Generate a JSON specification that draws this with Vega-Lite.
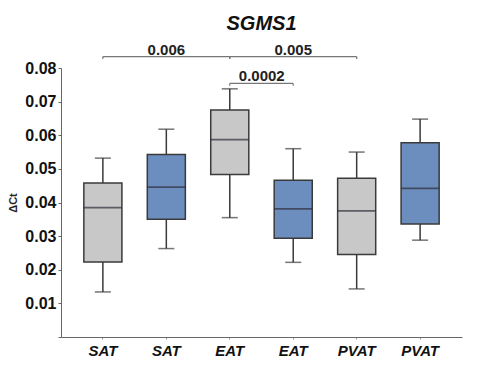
{
  "$schema": "https://vega.github.io/schema/vega-lite/v6.json",
  "width": 401,
  "height": 269,
  "autosize": {"type": "none"},
  "padding": {"left": 61, "top": 68, "right": 34, "bottom": 40},
  "background": "white",
  "title": {"text": "SGMS1", "font": "Liberation Sans", "fontSize": 20, "fontWeight": "bold", "fontStyle": "italic", "color": "#111", "anchor": "middle", "offset": 9},
  "config": {"view": {"stroke": null}, "font": "Liberation Sans"},
  "datasets": {
    "boxes": [
      {"group": "SAT_1", "tissue": "grey", "min": 0.0134, "q1": 0.0223, "median": 0.0385, "q3": 0.0458, "max": 0.0532},
      {"group": "SAT_2", "tissue": "blue", "min": 0.0263, "q1": 0.0350, "median": 0.0446, "q3": 0.0543, "max": 0.0618},
      {"group": "EAT_1", "tissue": "grey", "min": 0.0355, "q1": 0.0483, "median": 0.0587, "q3": 0.0675, "max": 0.0738},
      {"group": "EAT_2", "tissue": "blue", "min": 0.0222, "q1": 0.0294, "median": 0.0381, "q3": 0.0466, "max": 0.0560},
      {"group": "PVAT_1", "tissue": "grey", "min": 0.0143, "q1": 0.0245, "median": 0.0375, "q3": 0.0472, "max": 0.0550},
      {"group": "PVAT_2", "tissue": "blue", "min": 0.0288, "q1": 0.0336, "median": 0.0442, "q3": 0.0578, "max": 0.0648}
    ],
    "brackets": [
      {"from": "SAT_1", "to": "EAT_1", "y": 0.0834, "yEnd": 0.0827},
      {"from": "EAT_1", "to": "PVAT_1", "y": 0.0834, "yEnd": 0.0827},
      {"from": "EAT_1", "to": "EAT_2", "y": 0.0754, "yEnd": 0.0747}
    ],
    "labels": [
      {"group": "SAT_2", "label": "0.006", "ly": 0.0840},
      {"group": "EAT_2", "label": "0.005", "ly": 0.0840},
      {"mid": "EAT_1", "label": "0.0002", "ly": 0.0761}
    ]
  },
  "encoding": {
    "x": {"field": "group", "type": "nominal", "sort": null,
          "scale": {"domain": ["SAT_1", "SAT_2", "EAT_1", "EAT_2", "PVAT_1", "PVAT_2"], "paddingInner": 0.4, "paddingOuter": 0.36},
          "axis": {"title": null, "labelExpr": "split(datum.label,'_')[0]", "labelFont": "Liberation Sans", "labelFontSize": 15, "labelFontWeight": "bold", "labelFontStyle": "italic", "labelColor": "#111", "labelAngle": 0, "labelPadding": 4, "domainColor": "#666", "tickColor": "#999", "tickSize": 2}},
    "y": {"field": "min", "type": "quantitative",
          "scale": {"domain": [0, 0.08], "nice": false, "zero": true},
          "axis": {"title": "ΔCt", "titleFont": "Liberation Sans", "titleFontSize": 11, "titleFontWeight": "bold", "titleColor": "#222", "titlePadding": 6, "tickCount": 8, "format": ".2f", "labelExpr": "datum.value == 0 ? '' : datum.label", "labelOverlap": false, "labelFont": "Liberation Sans", "labelFontSize": 16, "labelFontWeight": "bold", "labelColor": "#111", "grid": false, "domainColor": "#666", "tickColor": "#666", "tickSize": 3, "labelPadding": 2}}
  },
  "layer": [
    {
      "data": {"name": "boxes"},
      "mark": {"type": "rule", "color": "#3a3a3a", "strokeWidth": 1.5},
      "encoding": {
        "y2": {"field": "max"}
      }
    },
    {
      "data": {"name": "boxes"},
      "mark": {"type": "tick", "color": "#3a3a3a", "thickness": 1.5, "size": 16},
      "encoding": {
        "y": {"field": "max", "type": "quantitative"}
      }
    },
    {
      "data": {"name": "boxes"},
      "mark": {"type": "tick", "color": "#3a3a3a", "thickness": 1.5, "size": 16},
      "encoding": {}
    },
    {
      "data": {"name": "boxes"},
      "mark": {"type": "bar", "stroke": "#3a3a3a", "strokeWidth": 1.5},
      "encoding": {
        "y": {"field": "q1", "type": "quantitative"},
        "y2": {"field": "q3"},
        "color": {"field": "tissue", "type": "nominal", "scale": {"domain": ["grey", "blue"], "range": ["#C8C8C8", "#6C8EBF"]}, "legend": null}
      }
    },
    {
      "data": {"name": "boxes"},
      "mark": {"type": "tick", "color": "#2e2e3a", "thickness": 1.8, "band": 1},
      "encoding": {
        "y": {"field": "median", "type": "quantitative"}
      }
    },
    {
      "data": {"name": "brackets"},
      "mark": {"type": "rule", "color": "#777", "strokeWidth": 1.2},
      "encoding": {
        "x": {"field": "from", "type": "nominal"},
        "x2": {"field": "to"},
        "y": {"field": "y", "type": "quantitative"}
      }
    },
    {
      "data": {"name": "brackets"},
      "mark": {"type": "rule", "color": "#777", "strokeWidth": 1.2},
      "encoding": {
        "x": {"field": "from", "type": "nominal"},
        "y": {"field": "y", "type": "quantitative"},
        "y2": {"field": "yEnd"}
      }
    },
    {
      "data": {"name": "brackets"},
      "mark": {"type": "rule", "color": "#777", "strokeWidth": 1.2},
      "encoding": {
        "x": {"field": "to", "type": "nominal"},
        "y": {"field": "y", "type": "quantitative"},
        "y2": {"field": "yEnd"}
      }
    },
    {
      "data": {"name": "labels"},
      "transform": [{"filter": "datum.group"}],
      "mark": {"type": "text", "font": "Liberation Sans", "fontSize": 15, "fontWeight": "bold", "color": "#222", "baseline": "alphabetic", "align": "center"},
      "encoding": {
        "y": {"field": "ly", "type": "quantitative"},
        "text": {"field": "label"}
      }
    },
    {
      "data": {"name": "labels"},
      "transform": [{"filter": "datum.mid"}],
      "mark": {"type": "text", "font": "Liberation Sans", "fontSize": 15, "fontWeight": "bold", "color": "#222", "baseline": "alphabetic", "align": "center", "dx": 32},
      "encoding": {
        "x": {"field": "mid", "type": "nominal"},
        "y": {"field": "ly", "type": "quantitative"},
        "text": {"field": "label"}
      }
    }
  ]
}
